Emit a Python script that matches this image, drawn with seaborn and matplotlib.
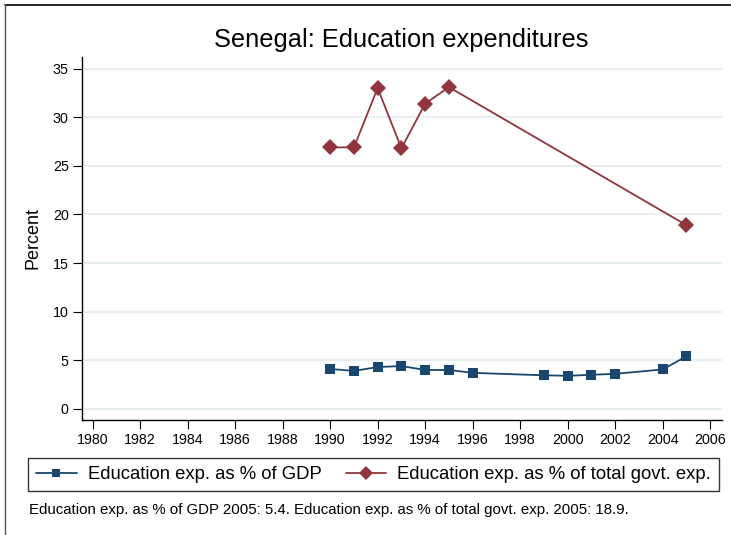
import matplotlib.pyplot as plt
import numpy as np
import pandas as pd
import seaborn as sns
from matplotlib.lines import Line2D

# data
gdp_years = [1990, 1991, 1992, 1993, 1994, 1995, 1996, 1999, 2000, 2001, 2002, 2004, 2005]
gdp_share = [4.1, 3.9, 4.3, 4.4, 4.0, 4.0, 3.7, 3.45, 3.4, 3.5, 3.6, 4.05, 5.4]
govt_years = [1990, 1991, 1992, 1993, 1994, 1995, 2005]
govt_share = [26.9, 26.9, 33.0, 26.8, 31.4, 33.1, 18.9]
x_ticks = list(range(1980, 2007, 2))
y_ticks = [0, 5, 10, 15, 20, 25, 30, 35]

sns.set_style("ticks")
plt.rcParams['font.family'] = ['Liberation Sans', 'DejaVu Sans']
plt.rcParams.update({'text.color': 'black', 'axes.labelcolor': 'black',
                     'xtick.color': 'black', 'ytick.color': 'black'})

navy = '#1a476f'
maroon = '#90353b'

fig = plt.figure(figsize=(7.31, 5.35), dpi=100)
ax = fig.add_axes([82 / 731, 1 - 420 / 535, 640 / 731, 363 / 535])

gdp = pd.DataFrame({'year': gdp_years, 'value': gdp_share})
govt = pd.DataFrame({'year': govt_years, 'value': govt_share})

sns.lineplot(data=gdp, x='year', y='value', ax=ax, color=navy, marker='s',
             markersize=7, markeredgewidth=0, linewidth=1.3,
             label='Education exp. as % of GDP')
sns.lineplot(data=govt, x='year', y='value', ax=ax, color=maroon, marker='D',
             markersize=8, markeredgewidth=0, linewidth=1.3,
             label='Education exp. as % of total govt. exp.')

ax.set_xlim(1979.55, 2006.5)
ax.set_ylim(-1.15, 36.2)
ax.set_xticks(x_ticks)
ax.set_yticks(y_ticks)
ax.yaxis.grid(True, color='#e8eff2', linewidth=1.5)
ax.set_axisbelow(True)
sns.despine(ax=ax)
for s in ['left', 'bottom']:
    ax.spines[s].set_color('black')
    ax.spines[s].set_linewidth(1.0)
ax.tick_params(axis='both', length=6.5, width=0.8, colors='black', labelsize=10.3, pad=3)
ax.set_xlabel('')
ax.set_ylabel('Percent', fontsize=13, labelpad=8)

fig.text(401 / 731, 1 - 40 / 535, 'Senegal: Education expenditures', fontsize=18.3,
         ha='center', va='center')

handles, labels = ax.get_legend_handles_labels()
ax.get_legend().remove()
leg = fig.legend(handles, labels, loc='center', ncol=2,
                 bbox_to_anchor=(373.5 / 731, 1 - 474.5 / 535),
                 fontsize=13.3, frameon=True, fancybox=False, edgecolor='black',
                 handlelength=2.2, handletextpad=0.6, columnspacing=1.3,
                 borderpad=0.45, borderaxespad=0, markerscale=0.9)
leg.get_frame().set_linewidth(1.0)

fig.text(29 / 731, 1 - 510 / 535,
         'Education exp. as % of GDP 2005: 5.4. Education exp. as % of total govt. exp. 2005: 18.9.',
         fontsize=10.8, ha='left', va='center')

# outer frame (top and left edges visible in the reference)
fig.add_artist(Line2D([5 / 731, 1], [1 - 5 / 535, 1 - 5 / 535], color='black', linewidth=1.2))
fig.add_artist(Line2D([5 / 731, 5 / 731], [0, 1 - 5 / 535], color='#555555', linewidth=1.0))

fig.savefig('out.png', dpi=100)
